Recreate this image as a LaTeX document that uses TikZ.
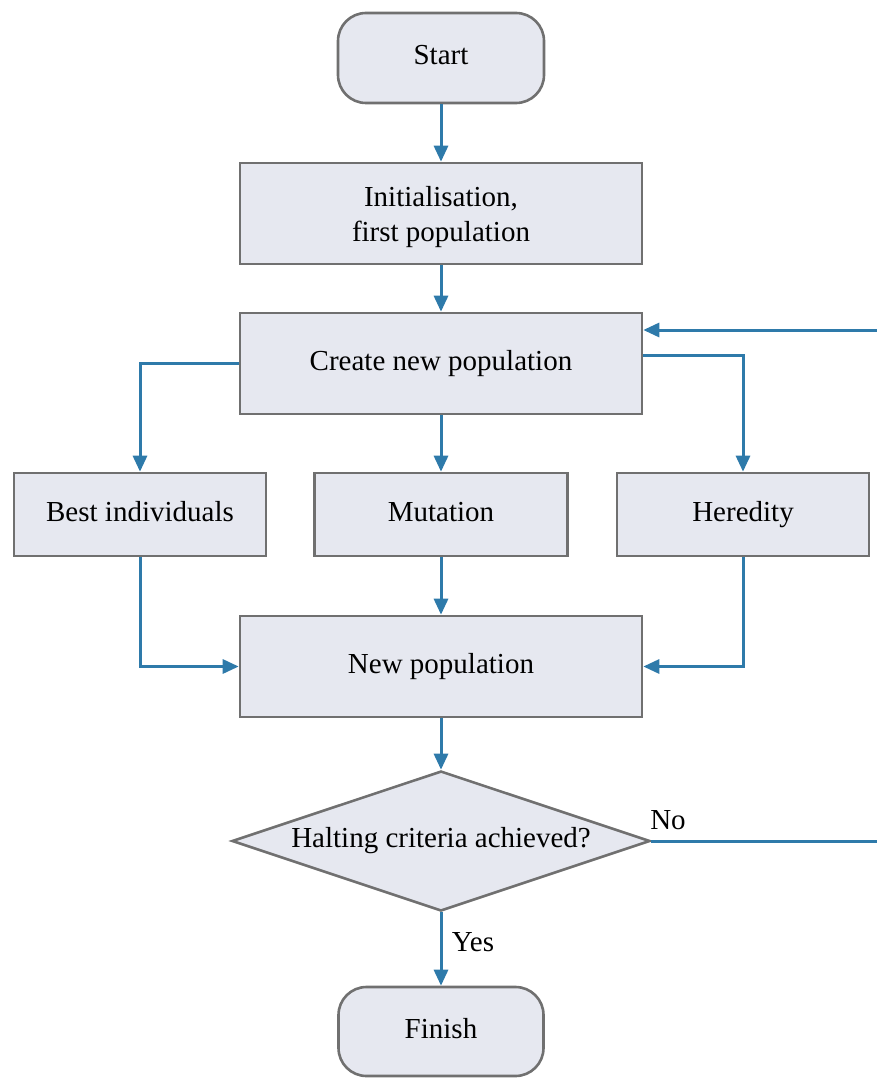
\documentclass[tikz,border=0pt]{standalone}
\usepackage{fontspec}
\setmainfont{Liberation Serif}
\usetikzlibrary{shapes.geometric,arrows.meta}
\definecolor{boxfill}{HTML}{E6E8F0}
\definecolor{boxline}{HTML}{707070}
\definecolor{arrowc}{HTML}{2E7AAA}
\tikzset{
  base/.style={draw=boxline, fill=boxfill, line width=2.6pt, align=center, inner sep=0pt,
    font=\fontsize{29}{35}\selectfont},
  one/.style={text height=1.3em, text depth=0em},
  proc/.style={base, rectangle},
  term/.style={base, rounded corners=28pt},
  conn/.style={draw=arrowc, line width=3pt, -{Triangle[length=16pt,width=14pt]}},
  lab/.style={font=\fontsize{29}{35}\selectfont}
}
\begin{document}
\begin{tikzpicture}[x=1pt,y=-1pt]
\useasboundingbox (0,0) rectangle (877,1078);
\node[term, one, minimum width=206pt, minimum height=90pt] (start) at (441,58) {Start};
\node[proc, minimum width=402pt, minimum height=101pt] (init) at (441,213.5) {};
\node[lab, align=center] at (441,217) {Initialisation,\\ first population};
\node[proc, one, minimum width=402pt, minimum height=101pt] (create) at (441,363.5) {Create new population};
\node[proc, one, minimum width=252pt, minimum height=83pt] (best) at (140,514.5) {Best individuals};
\node[proc, one, minimum width=253pt, minimum height=83pt] (mut) at (441,514.5) {Mutation};
\node[proc, one, minimum width=252pt, minimum height=83pt] (her) at (743,514.5) {Heredity};
\node[proc, one, minimum width=402pt, minimum height=101pt] (newp) at (441,666.5) {New population};
\node[base, shape=diamond, minimum width=418pt, minimum height=140pt, inner sep=0pt] (halt) at (441,841) {};
\node[lab, one] at (441,841) {Halting criteria achieved?};
\node[term, one, minimum width=205pt, minimum height=89pt] (fin) at (441,1031.5) {Finish};
\coordinate (fbr) at (884,841);
\coordinate (fbt) at (884,330);
\draw[conn] (start) -- (init);
\draw[conn] (init) -- (create);
\draw[conn] (create.west) -| (best.north);
\draw[conn] (create) -- (mut);
\draw[conn] ([yshift=8pt]create.east) -| (her.north);
\draw[conn] (best.south) |- (newp.west);
\draw[conn] (mut) -- (newp);
\draw[conn] (her.south) |- (newp.east);
\draw[conn] (newp) -- (halt.north);
\draw[conn] (halt.south) -- node[lab, right, xshift=6pt, pos=0.4] {Yes} (fin.north);
\draw[conn] (halt.east) -- (fbr) -- (fbt) -- (create.east |- fbt);
\node[lab] (no) at (668,820) {No};
\end{tikzpicture}
\end{document}
